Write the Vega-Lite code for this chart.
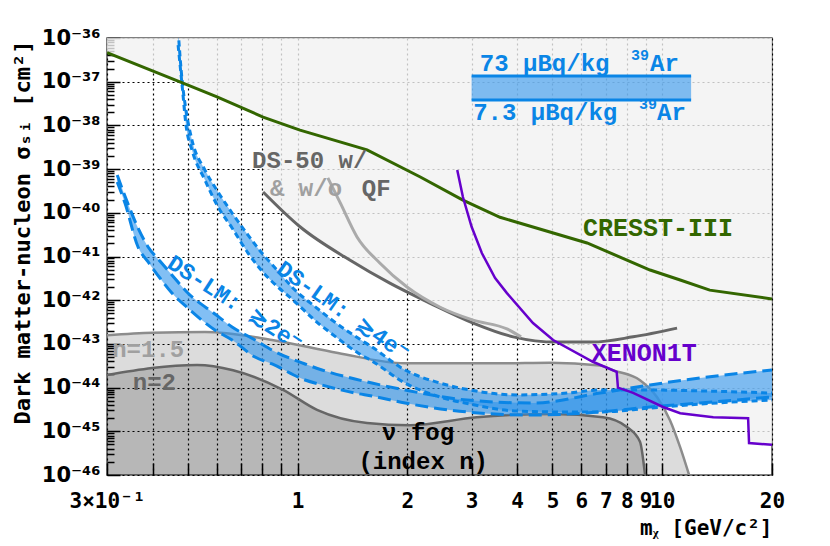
{
  "$schema": "https://vega.github.io/schema/vega-lite/v6.json",
  "width": 665,
  "height": 437,
  "autosize": "none",
  "padding": {"left": 107, "top": 38, "right": 58, "bottom": 71},
  "background": "white",
  "config": {
    "view": {"stroke": "#555555", "strokeWidth": 1.5},
    "font": "Liberation Mono",
    "text": {"font": "Liberation Mono", "fontWeight": "bold", "fontSize": 25}
  },
  "datasets": {
    "exclusion": [
      {"x": 0.3, "y": 4.6e-37}, {"x": 0.485, "y": 9.3e-38}, {"x": 0.601, "y": 4.5e-38},
      {"x": 0.804, "y": 1.55e-38}, {"x": 0.806, "y": 3.0e-40}, {"x": 1.015, "y": 4.8e-41},
      {"x": 1.39, "y": 8.3e-42}, {"x": 1.79, "y": 2.45e-42}, {"x": 2.31, "y": 8.5e-43},
      {"x": 3.03, "y": 3.0e-43}, {"x": 3.9, "y": 1.45e-43}, {"x": 5.02, "y": 1.15e-43},
      {"x": 6.45, "y": 3.9e-44}, {"x": 7.5, "y": 2.3e-44}, {"x": 7.56, "y": 1.0e-44},
      {"x": 8.32, "y": 7.6e-45}, {"x": 10.05, "y": 3.6e-45}, {"x": 11.2, "y": 2.6e-45},
      {"x": 13.8, "y": 2.1e-45}, {"x": 17.2, "y": 2.0e-45}, {"x": 17.3, "y": 5.4e-46},
      {"x": 20, "y": 4.9e-46}
    ],
    "cresst": [
      {"x": 0.3, "y": 4.6e-37}, {"x": 0.485, "y": 9.3e-38}, {"x": 0.601, "y": 4.5e-38},
      {"x": 0.804, "y": 1.55e-38}, {"x": 1.015, "y": 7.8e-39}, {"x": 1.55, "y": 2.75e-39},
      {"x": 2.17, "y": 6.6e-40}, {"x": 2.84, "y": 1.95e-40}, {"x": 3.59, "y": 7.9e-41},
      {"x": 6.22, "y": 2.04e-41}, {"x": 9.26, "y": 4.9e-42}, {"x": 11.2, "y": 2.9e-42},
      {"x": 13.5, "y": 1.7e-42}, {"x": 20, "y": 1.07e-42}
    ],
    "xenon": [
      {"x": 2.74, "y": 9.5e-40}, {"x": 2.84, "y": 2.3e-40}, {"x": 3.0, "y": 4.8e-41},
      {"x": 3.2, "y": 1.2e-41}, {"x": 3.48, "y": 3.2e-42}, {"x": 3.75, "y": 1.45e-42},
      {"x": 4.42, "y": 3.0e-43}, {"x": 5.02, "y": 1.23e-43}, {"x": 6.45, "y": 3.9e-44},
      {"x": 7.5, "y": 2.3e-44}, {"x": 7.56, "y": 1.0e-44}, {"x": 8.32, "y": 7.6e-45},
      {"x": 10.05, "y": 3.6e-45}, {"x": 11.2, "y": 2.6e-45}, {"x": 13.8, "y": 2.1e-45},
      {"x": 17.2, "y": 2.0e-45}, {"x": 17.3, "y": 5.4e-46}, {"x": 20, "y": 4.9e-46}
    ],
    "ds50": [
      {"x": 0.804, "y": 3.0e-40}, {"x": 1.015, "y": 4.8e-41}, {"x": 1.39, "y": 8.3e-42},
      {"x": 1.79, "y": 2.45e-42}, {"x": 2.31, "y": 8.5e-43}, {"x": 3.03, "y": 3.0e-43},
      {"x": 3.9, "y": 1.45e-43}, {"x": 5.15, "y": 1.1e-43}, {"x": 6.45, "y": 1.1e-43},
      {"x": 8.32, "y": 1.45e-43}, {"x": 10.98, "y": 2.3e-43}
    ],
    "ds50noqf": [
      {"x": 1.21, "y": 6.3e-40}, {"x": 1.31, "y": 1.66e-40}, {"x": 1.455, "y": 2.8e-41},
      {"x": 1.68, "y": 7.1e-42}, {"x": 1.995, "y": 2.0e-42}, {"x": 2.46, "y": 6.9e-43},
      {"x": 3.03, "y": 3.5e-43}, {"x": 3.75, "y": 2.2e-43}, {"x": 4.1, "y": 1.45e-43}
    ],
    "fog15": [
      {"x": 0.3, "y": 1.58e-43}, {"x": 0.4, "y": 1.8e-43}, {"x": 0.557, "y": 1.86e-43},
      {"x": 0.851, "y": 1.23e-43}, {"x": 1.29, "y": 6.2e-44}, {"x": 1.97, "y": 3.6e-44},
      {"x": 3.59, "y": 3.6e-44}, {"x": 4.92, "y": 3.7e-44}, {"x": 6.75, "y": 3.2e-44},
      {"x": 7.32, "y": 2.5e-44}, {"x": 8.69, "y": 1.48e-44}, {"x": 9.68, "y": 6.0e-45},
      {"x": 10.5, "y": 1.8e-45}, {"x": 11.19, "y": 4.4e-46}, {"x": 11.85, "y": 1e-46}
    ],
    "fog2": [
      {"x": 0.3, "y": 1.95e-44}, {"x": 0.53, "y": 3.3e-44}, {"x": 0.665, "y": 2.5e-44},
      {"x": 0.912, "y": 8.9e-45}, {"x": 1.13, "y": 3.1e-45}, {"x": 1.55, "y": 1.55e-45},
      {"x": 2.03, "y": 1.38e-45}, {"x": 3.1, "y": 2.1e-45}, {"x": 5.02, "y": 2.5e-45},
      {"x": 6.88, "y": 2.1e-45}, {"x": 8.0, "y": 1.26e-45}, {"x": 8.69, "y": 5.8e-46},
      {"x": 8.97, "y": 1e-46}
    ],
    "ds2e": [
      {"x": 0.32, "up": 7.3e-40, "lo": 5.07e-40}, {"x": 0.336, "up": 2.42e-40, "lo": 1.67e-40},
      {"x": 0.365, "up": 4.49e-41, "lo": 1.65e-41}, {"x": 0.389, "up": 1.65e-41, "lo": 7.5e-42},
      {"x": 0.419, "up": 7.9e-42, "lo": 3.22e-42}, {"x": 0.452, "up": 3.78e-42, "lo": 1.46e-42},
      {"x": 0.5, "up": 1.46e-42, "lo": 6.6e-43}, {"x": 0.593, "up": 4.83e-43, "lo": 2.08e-43},
      {"x": 0.661, "up": 2.44e-43, "lo": 1.23e-43}, {"x": 0.764, "up": 1.23e-43, "lo": 5.0e-44},
      {"x": 0.851, "up": 7.2e-44, "lo": 3.47e-44}, {"x": 1.048, "up": 3.47e-44, "lo": 1.49e-44},
      {"x": 1.166, "up": 2.53e-44, "lo": 1.15e-44}, {"x": 1.436, "up": 1.57e-44, "lo": 7.5e-45},
      {"x": 1.599, "up": 1.27e-44, "lo": 6.4e-45}, {"x": 1.971, "up": 8.8e-45, "lo": 4.44e-45},
      {"x": 2.914, "up": 5.2e-45, "lo": 2.77e-45}, {"x": 4.42, "up": 4.44e-45, "lo": 2.36e-45},
      {"x": 6.75, "up": 7.5e-45, "lo": 2.77e-45}, {"x": 9.26, "up": 1.15e-44, "lo": 3.6e-45},
      {"x": 12.69, "up": 1.66e-44, "lo": 4.44e-45}, {"x": 20, "up": 2.53e-44, "lo": 6.1e-45}
    ],
    "ds4e": [
      {"x": 0.47, "up": 1.5e-36, "lo": 6.9e-37}, {"x": 0.482, "up": 1.09e-37, "lo": 8.4e-38},
      {"x": 0.494, "up": 2.25e-38, "lo": 1.02e-38}, {"x": 0.513, "up": 4.63e-39, "lo": 2.74e-39},
      {"x": 0.557, "up": 9.5e-40, "lo": 5.6e-40}, {"x": 0.605, "up": 2.99e-40, "lo": 1.36e-40},
      {"x": 0.661, "up": 9.9e-41, "lo": 4.49e-41}, {"x": 0.731, "up": 3.1e-41, "lo": 1.2e-41},
      {"x": 0.798, "up": 1.2e-41, "lo": 4.66e-42}, {"x": 0.883, "up": 4.66e-42, "lo": 2.0e-42},
      {"x": 0.965, "up": 2.0e-42, "lo": 1.06e-42}, {"x": 1.137, "up": 6.3e-43, "lo": 3.0e-43},
      {"x": 1.242, "up": 3.52e-43, "lo": 1.69e-43}, {"x": 1.464, "up": 1.36e-43, "lo": 6.2e-44},
      {"x": 1.599, "up": 8.5e-44, "lo": 4.06e-44}, {"x": 1.971, "up": 2.53e-44, "lo": 1.27e-44},
      {"x": 2.457, "up": 1.27e-44, "lo": 6.1e-45}, {"x": 2.97, "up": 8.8e-45, "lo": 4.2e-45},
      {"x": 3.996, "up": 6.8e-45, "lo": 2.9e-45}, {"x": 5.48, "up": 7.5e-45, "lo": 2.77e-45},
      {"x": 6.75, "up": 8.8e-45, "lo": 2.77e-45}, {"x": 9.26, "up": 8.8e-45, "lo": 3.4e-45},
      {"x": 12.69, "up": 8.4e-45, "lo": 4.2e-45}, {"x": 20, "up": 7.5e-45, "lo": 5.2e-45}
    ]
  },
  "layer": [
    {
      "data": {"name": "exclusion"},
      "mark": {"type": "area", "color": "#f1f1f1", "fillOpacity": 0.8, "clip": true},
      "encoding": {
        "x": {
          "field": "x",
          "type": "quantitative",
          "scale": {"type": "log", "domain": [0.3, 20], "nice": false},
          "axis": {
            "values": [0.3, 0.4, 0.5, 0.6, 0.7, 0.8, 0.9, 1, 2, 3, 4, 5, 6, 7, 8, 9, 10, 20],
            "labelExpr": "datum.value < 0.35 ? '3×10⁻¹' : datum.value < 0.95 ? '' : '' + datum.value",
            "labelFont": "DejaVu Sans Mono",
            "labelFontWeight": "bold",
            "labelFontSize": 21,
            "labelColor": "black",
            "labelOverlap": false,
            "labelFlush": false,
            "labelBound": false,
            "labelPadding": 27,
            "tickSize": -12,
            "tickColor": "black",
            "tickWidth": 1.5,
            "domain": false,
            "grid": true,
            "gridColor": "black",
            "gridDash": [2, 3],
            "gridWidth": 1.2,
            "title": "mᵪ  [GeV/c²]",
            "titleFont": "DejaVu Sans Mono",
            "titleFontWeight": "bold",
            "titleFontSize": 21,
            "titleColor": "black",
            "titleAnchor": "end",
            "titleAlign": "right",
            "titleBaseline": "middle",
            "titleX": 665,
            "titleY": 53
          }
        },
        "y": {
          "field": "y",
          "type": "quantitative",
          "scale": {"type": "log", "domain": [1e-46, 1e-36], "nice": false},
          "axis": {
            "values": [1e-46, 2e-46, 3e-46, 4e-46, 5e-46, 6e-46, 7e-46, 8e-46, 9e-46,
              1e-45, 2e-45, 3e-45, 4e-45, 5e-45, 6e-45, 7e-45, 8e-45, 9e-45,
              1e-44, 2e-44, 3e-44, 4e-44, 5e-44, 6e-44, 7e-44, 8e-44, 9e-44,
              1e-43, 2e-43, 3e-43, 4e-43, 5e-43, 6e-43, 7e-43, 8e-43, 9e-43,
              1e-42, 2e-42, 3e-42, 4e-42, 5e-42, 6e-42, 7e-42, 8e-42, 9e-42,
              1e-41, 2e-41, 3e-41, 4e-41, 5e-41, 6e-41, 7e-41, 8e-41, 9e-41,
              1e-40, 2e-40, 3e-40, 4e-40, 5e-40, 6e-40, 7e-40, 8e-40, 9e-40,
              1e-39, 2e-39, 3e-39, 4e-39, 5e-39, 6e-39, 7e-39, 8e-39, 9e-39,
              1e-38, 2e-38, 3e-38, 4e-38, 5e-38, 6e-38, 7e-38, 8e-38, 9e-38,
              1e-37, 2e-37, 3e-37, 4e-37, 5e-37, 6e-37, 7e-37, 8e-37, 9e-37, 1e-36],
            "labelExpr": "abs(log(datum.value)/LN10 - round(log(datum.value)/LN10)) > 0.01 ? '' : '10⁻' + ['⁰','¹','²','³','⁴','⁵','⁶','⁷','⁸','⁹'][floor(round(-log(datum.value)/LN10)/10)] + ['⁰','¹','²','³','⁴','⁵','⁶','⁷','⁸','⁹'][round(-log(datum.value)/LN10) % 10]",
            "labelFont": "DejaVu Sans",
            "labelFontWeight": "bold",
            "labelFontSize": 21,
            "labelColor": "black",
            "labelOverlap": false,
            "labelFlush": false,
            "labelBound": false,
            "labelPadding": 20,
            "tickSize": {"condition": {"test": "abs(log(datum.value)/LN10 - round(log(datum.value)/LN10)) < 0.01", "value": -13}, "value": -7},
            "tickColor": "black",
            "tickWidth": 1.5,
            "domain": false,
            "grid": true,
            "gridColor": "black",
            "gridDash": [2, 3],
            "gridWidth": 1.2,
            "gridOpacity": {"condition": {"test": "abs(log(datum.value)/LN10 - round(log(datum.value)/LN10)) < 0.01", "value": 1}, "value": 0},
            "title": "Dark matter-nucleon σₛᵢ  [cm²]",
            "titleFont": "DejaVu Sans Mono",
            "titleFontWeight": "bold",
            "titleFontSize": 22,
            "titleColor": "black",
            "titleAngle": -90,
            "titleAlign": "right",
            "titleBaseline": "middle",
            "titleX": -85,
            "titleY": 2
          }
        },
        "y2": {"datum": 1e-36}
      }
    },
    {
      "data": {"name": "fog15"},
      "mark": {"type": "area", "color": "black", "fillOpacity": 0.137, "interpolate": "monotone", "clip": true},
      "encoding": {
        "x": {"field": "x", "type": "quantitative"},
        "y": {"field": "y", "type": "quantitative"},
        "y2": {"datum": 1e-46}
      }
    },
    {
      "data": {"name": "fog2"},
      "mark": {"type": "area", "color": "black", "fillOpacity": 0.164, "interpolate": "monotone", "clip": true},
      "encoding": {
        "x": {"field": "x", "type": "quantitative"},
        "y": {"field": "y", "type": "quantitative"},
        "y2": {"datum": 1e-46}
      }
    },
    {
      "data": {"name": "fog15"},
      "mark": {"type": "line", "color": "#8c8c8c", "strokeWidth": 2.5, "interpolate": "monotone", "clip": true},
      "encoding": {
        "x": {"field": "x", "type": "quantitative"},
        "y": {"field": "y", "type": "quantitative"}
      }
    },
    {
      "data": {"name": "fog2"},
      "mark": {"type": "line", "color": "#666666", "strokeWidth": 2.5, "interpolate": "monotone", "clip": true},
      "encoding": {
        "x": {"field": "x", "type": "quantitative"},
        "y": {"field": "y", "type": "quantitative"}
      }
    },
    {
      "data": {"name": "ds2e"},
      "mark": {"type": "area", "color": "#2f95ec", "fillOpacity": 0.6, "interpolate": "monotone", "clip": true},
      "encoding": {
        "x": {"field": "x", "type": "quantitative"},
        "y": {"field": "up", "type": "quantitative"},
        "y2": {"field": "lo"}
      }
    },
    {
      "data": {"name": "ds4e"},
      "mark": {"type": "area", "color": "#2f95ec", "fillOpacity": 0.6, "interpolate": "monotone", "clip": true},
      "encoding": {
        "x": {"field": "x", "type": "quantitative"},
        "y": {"field": "up", "type": "quantitative"},
        "y2": {"field": "lo"}
      }
    },
    {
      "data": {"name": "ds2e"},
      "mark": {"type": "line", "color": "#0a85e6", "strokeWidth": 3, "strokeDash": [13, 6], "interpolate": "monotone", "clip": true},
      "encoding": {
        "x": {"field": "x", "type": "quantitative"},
        "y": {"field": "up", "type": "quantitative"}
      }
    },
    {
      "data": {"name": "ds2e"},
      "mark": {"type": "line", "color": "#0a85e6", "strokeWidth": 3, "strokeDash": [13, 6], "interpolate": "monotone", "clip": true},
      "encoding": {
        "x": {"field": "x", "type": "quantitative"},
        "y": {"field": "lo", "type": "quantitative"}
      }
    },
    {
      "data": {"name": "ds4e"},
      "mark": {"type": "line", "color": "#0a85e6", "strokeWidth": 3, "strokeDash": [6, 4], "interpolate": "monotone", "clip": true},
      "encoding": {
        "x": {"field": "x", "type": "quantitative"},
        "y": {"field": "up", "type": "quantitative"}
      }
    },
    {
      "data": {"name": "ds4e"},
      "mark": {"type": "line", "color": "#0a85e6", "strokeWidth": 3, "strokeDash": [6, 4], "interpolate": "monotone", "clip": true},
      "encoding": {
        "x": {"field": "x", "type": "quantitative"},
        "y": {"field": "lo", "type": "quantitative"}
      }
    },
    {
      "data": {"name": "cresst"},
      "mark": {"type": "line", "color": "#336600", "strokeWidth": 3, "clip": true},
      "encoding": {
        "x": {"field": "x", "type": "quantitative"},
        "y": {"field": "y", "type": "quantitative"}
      }
    },
    {
      "data": {"name": "ds50"},
      "mark": {"type": "line", "color": "#666666", "strokeWidth": 3, "interpolate": "monotone", "clip": true},
      "encoding": {
        "x": {"field": "x", "type": "quantitative"},
        "y": {"field": "y", "type": "quantitative"}
      }
    },
    {
      "data": {"name": "ds50noqf"},
      "mark": {"type": "line", "color": "#aaaaaa", "strokeWidth": 3, "interpolate": "monotone", "clip": true},
      "encoding": {
        "x": {"field": "x", "type": "quantitative"},
        "y": {"field": "y", "type": "quantitative"}
      }
    },
    {
      "data": {"name": "xenon"},
      "mark": {"type": "line", "color": "#6600cc", "strokeWidth": 2.5, "clip": true},
      "encoding": {
        "x": {"field": "x", "type": "quantitative"},
        "y": {"field": "y", "type": "quantitative"}
      }
    },
    {
      "data": {"values": [{"x0": 3.0, "x1": 12.0, "ya": 1.35e-37, "yb": 3.8e-38}]},
      "mark": {"type": "rect", "color": "#2f95ec", "fillOpacity": 0.6},
      "encoding": {
        "x": {"field": "x0", "type": "quantitative"},
        "x2": {"field": "x1"},
        "y": {"field": "ya", "type": "quantitative"},
        "y2": {"field": "yb"}
      }
    },
    {
      "data": {"values": [{"x0": 3.0, "x1": 12.0, "ya": 1.35e-37}, {"x0": 3.0, "x1": 12.0, "ya": 3.8e-38}]},
      "mark": {"type": "rule", "color": "#0a85e6", "strokeWidth": 3},
      "encoding": {
        "x": {"field": "x0", "type": "quantitative"},
        "x2": {"field": "x1"},
        "y": {"field": "ya", "type": "quantitative"}
      }
    },
    {
      "data": {"values": [
        {"x": 3.16, "y": 2.54e-37, "label": "73 μBq/kg"},
        {"x": 9.26, "y": 2.54e-37, "label": "Ar"},
        {"x": 3.03, "y": 1.92e-38, "label": "7.3 μBq/kg"},
        {"x": 9.68, "y": 1.92e-38, "label": "Ar"}
      ]},
      "mark": {"type": "text", "color": "#0a85e6", "align": "left", "baseline": "middle", "fontSize": 24},
      "encoding": {
        "x": {"field": "x", "type": "quantitative"},
        "y": {"field": "y", "type": "quantitative"},
        "text": {"field": "label"}
      }
    },
    {
      "data": {"values": [
        {"x": 8.21, "y": 2.54e-37, "label": "39"},
        {"x": 8.63, "y": 1.92e-38, "label": "39"}
      ]},
      "mark": {"type": "text", "color": "#0a85e6", "align": "left", "baseline": "middle", "fontSize": 15, "dy": -9},
      "encoding": {
        "x": {"field": "x", "type": "quantitative"},
        "y": {"field": "y", "type": "quantitative"},
        "text": {"field": "label"}
      }
    },
    {
      "data": {"values": [
        {"x": 0.75, "y": 1.53e-39, "label": "DS-50 w/"},
        {"x": 1.5, "y": 3.5e-40, "label": "QF"},
        {"x": 0.353, "y": 1.27e-44, "label": "n=2"}
      ]},
      "mark": {"type": "text", "color": "#666666", "align": "left", "baseline": "middle", "fontSize": 24},
      "encoding": {
        "x": {"field": "x", "type": "quantitative"},
        "y": {"field": "y", "type": "quantitative"},
        "text": {"field": "label"}
      }
    },
    {
      "data": {"values": [
        {"x": 0.84, "y": 3.5e-40, "label": "& w/o"},
        {"x": 0.31, "y": 7.2e-44, "label": "n=1.5"}
      ]},
      "mark": {"type": "text", "color": "#a0a0a0", "align": "left", "baseline": "middle", "fontSize": 24},
      "encoding": {
        "x": {"field": "x", "type": "quantitative"},
        "y": {"field": "y", "type": "quantitative"},
        "text": {"field": "label"}
      }
    },
    {
      "data": {"values": [{"x": 6.06, "y": 4.5e-41, "label": "CRESST-III"}]},
      "mark": {"type": "text", "color": "#336600", "align": "left", "baseline": "middle"},
      "encoding": {
        "x": {"field": "x", "type": "quantitative"},
        "y": {"field": "y", "type": "quantitative"},
        "text": {"field": "label"}
      }
    },
    {
      "data": {"values": [{"x": 6.41, "y": 6.2e-44, "label": "XENON1T"}]},
      "mark": {"type": "text", "color": "#6600cc", "align": "left", "baseline": "middle"},
      "encoding": {
        "x": {"field": "x", "type": "quantitative"},
        "y": {"field": "y", "type": "quantitative"},
        "text": {"field": "label"}
      }
    },
    {
      "data": {"values": [{"x": 0.673, "y": 8.6e-43, "label": "DS-LM: ≳2e⁻"}]},
      "mark": {"type": "text", "color": "#0a85e6", "align": "center", "baseline": "middle", "angle": 33, "fontSize": 23},
      "encoding": {
        "x": {"field": "x", "type": "quantitative"},
        "y": {"field": "y", "type": "quantitative"},
        "text": {"field": "label"}
      }
    },
    {
      "data": {"values": [{"x": 1.33, "y": 5.7e-43, "label": "DS-LM: ≳4e⁻"}]},
      "mark": {"type": "text", "color": "#0a85e6", "align": "center", "baseline": "middle", "angle": 35, "fontSize": 23},
      "encoding": {
        "x": {"field": "x", "type": "quantitative"},
        "y": {"field": "y", "type": "quantitative"},
        "text": {"field": "label"}
      }
    },
    {
      "data": {"values": [
        {"x": 2.14, "y": 9.1e-46, "label": "ν fog"},
        {"x": 2.21, "y": 2.0e-46, "label": "(index n)"}
      ]},
      "mark": {"type": "text", "color": "black", "align": "center", "baseline": "middle", "fontSize": 24},
      "encoding": {
        "x": {"field": "x", "type": "quantitative"},
        "y": {"field": "y", "type": "quantitative"},
        "text": {"field": "label"}
      }
    }
  ]
}
